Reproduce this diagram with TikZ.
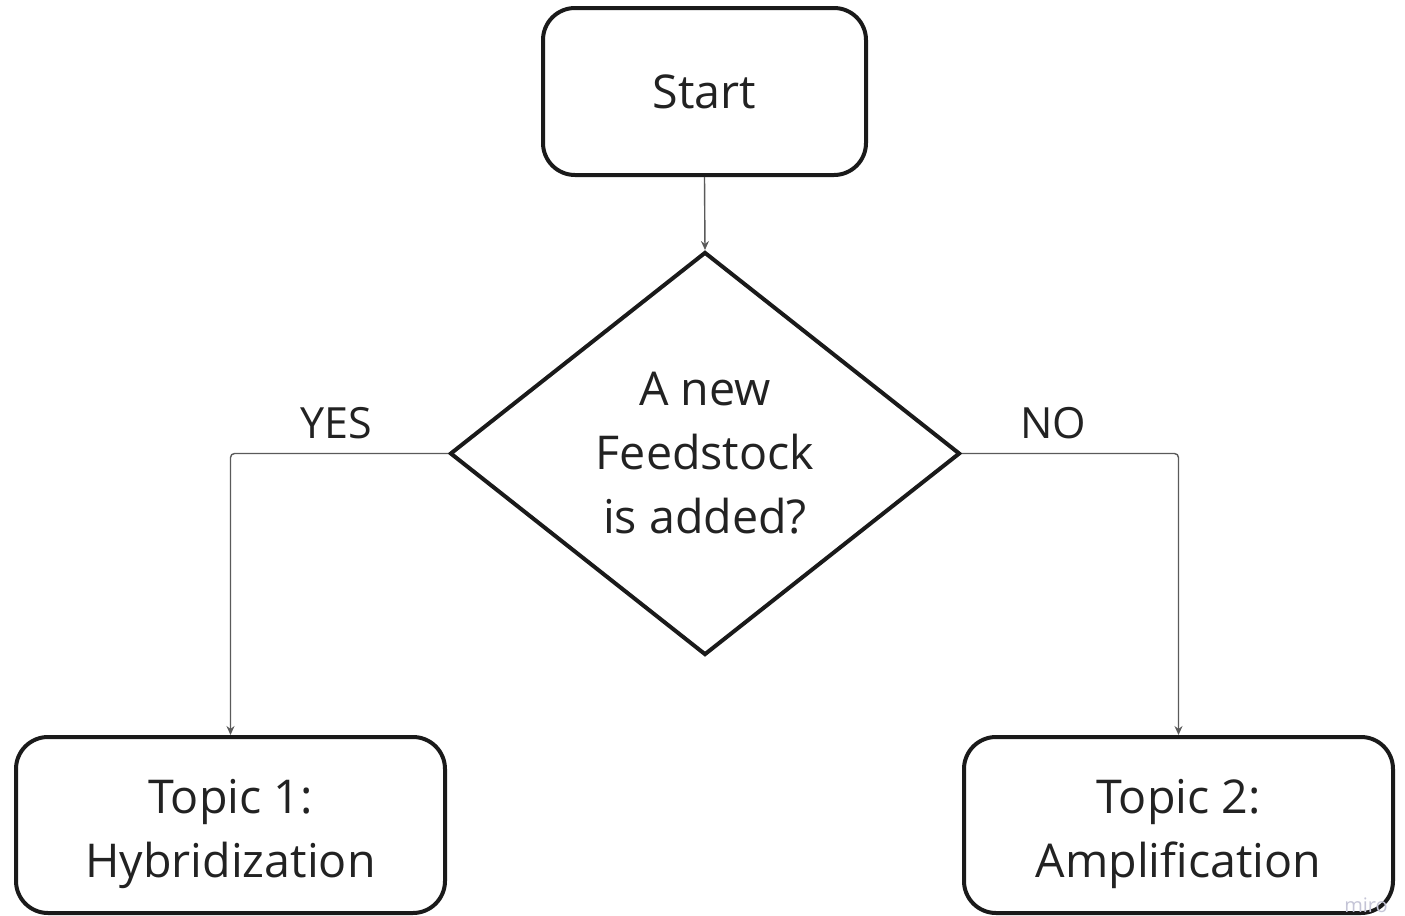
\documentclass[tikz,border=0pt]{standalone}
\usepackage{fontspec}
\setmainfont{Open Sans}
\usepackage{xcolor}
\definecolor{boxline}{RGB}{26,26,26}
\definecolor{wireline}{RGB}{90,90,90}
\definecolor{txtdark}{RGB}{34,34,34}
\definecolor{miroblue}{RGB}{196,196,214}
\usetikzlibrary{positioning,arrows.meta,shapes.geometric}

\begin{document}
\begin{tikzpicture}[
      x=0.5pt,y=-0.5pt,
      txt/.style={font=\fontsize{23.3}{32}\selectfont,text=txtdark,align=center},
      stepbox/.style={txt,draw=boxline,line width=2pt,rounded corners=16pt,
        inner sep=0pt},
      decide/.style={txt,draw=boxline,line width=2pt,diamond,inner sep=0pt,
        minimum width=255pt,minimum height=201.5pt},
      wire/.style={wireline,line width=0.7pt,rounded corners=2pt,
        -{Stealth[length=4.5pt,width=4pt]}},
      lbl/.style={font=\fontsize{21.5}{26}\selectfont,text=txtdark}
    ]
    \useasboundingbox (0,0) rectangle (1405,916);
    \node[stepbox,minimum width=161.5pt,minimum height=83.5pt] (start)
    at (704.5,91.5) {Start};
    \node[decide] (feed) at (705,453.5) {A new\\Feedstock\\is added?};
    \node[stepbox,minimum width=214.5pt,minimum height=88pt,
      text depth=0pt] (hybrid)
    at (230.5,825) {\raisebox{12pt}{\parbox{200pt}{\centering
          Topic 1:\\Hybridization}}};
    \node[stepbox,minimum width=214.5pt,minimum height=88pt,
      text depth=0pt] (ampli)
    at (1178.5,825) {\raisebox{12pt}{\parbox{200pt}{\centering
          Topic 2:\\Amplification}}};
    \draw[wire] (start.south) -- (feed.north);
    \draw[wire] (feed.west) -| (hybrid.north);
    \draw[wire] (feed.east) -| (ampli.north);
    \node[lbl] (yes) at (336,423) {YES};
    \node[lbl] (no) at (1053,423) {NO};
    \node[font=\fontsize{10}{12}\selectfont,text=miroblue] (miro)
    at (1366,905) {miro};
  \end{tikzpicture}
\end{document}
